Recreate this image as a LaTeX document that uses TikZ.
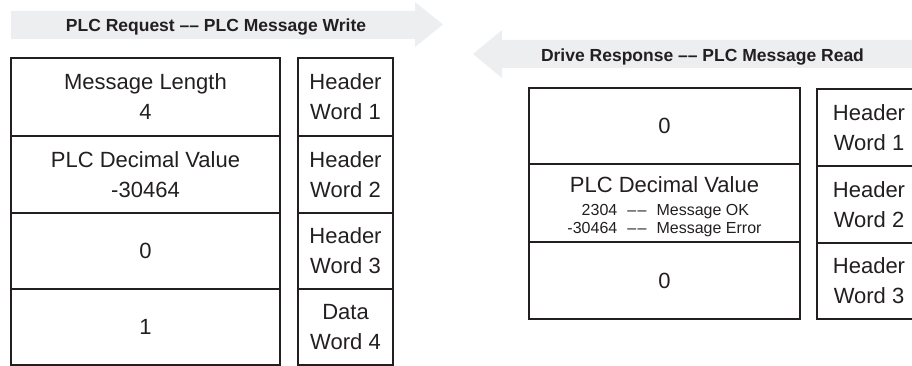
\documentclass[tikz,border=0pt]{standalone}
\usepackage{fontspec}
\setmainfont{Liberation Sans}
\newcommand{\bodyfont}{\fontsize{22}{30}\selectfont}
\newcommand{\headfont}{\fontsize{17.5}{21}\selectfont\bfseries}
\newcommand{\notefont}{\fontsize{16}{18}\selectfont}
\definecolor{inkc}{HTML}{231F20}
\definecolor{bandc}{HTML}{EDEEEF}

\begin{document}
\begin{tikzpicture}[x=1pt, y=-1pt,
  cell/.style={draw=inkc, line width=2.8pt, text=inkc, font=\bodyfont,
    align=center, inner sep=0pt},
  maincol/.style={cell, minimum width=269pt},
  sidecol/.style={cell, minimum width=95pt},
  rmaincol/.style={cell, minimum width=271pt},
  rsidecol/.style={cell, minimum width=104pt},
  heading/.style={text=inkc, font=\headfont, anchor=base, inner sep=0pt}]
  \useasboundingbox (0,0) rectangle (912,366);

  \fill[bandc] (11,11) -- (415,11) -- (415,2) -- (443,24.5) -- (415,47)
    -- (415,39) -- (11,39) -- cycle;
  \fill[bandc] (925,40) -- (502,40) -- (502,30) -- (473,54) -- (502,78)
    -- (502,68) -- (925,68) -- cycle;

  \node[heading] (reqtitle) at (216,32) {PLC Request –– PLC Message Write};
  \node[heading] (resptitle) at (702.5,62) {Drive Response –– PLC Message Read};

  \node[maincol, minimum height=78pt] (reqlen) at (145.5,97) {Message Length\\4};
  \node[maincol, minimum height=77pt] (reqval) at (145.5,174.5) {PLC Decimal Value\\-30464};
  \node[maincol, minimum height=76pt] (reqzero) at (145.5,251) {0};
  \node[maincol, minimum height=76pt] (reqone) at (145.5,327) {1};

  \node[sidecol, minimum height=78pt] (reqw1) at (345.5,97) {Header\\Word 1};
  \node[sidecol, minimum height=77pt] (reqw2) at (345.5,174.5) {Header\\Word 2};
  \node[sidecol, minimum height=76pt] (reqw3) at (345.5,251) {Header\\Word 3};
  \node[sidecol, minimum height=76pt] (reqw4) at (345.5,327) {Data\\Word 4};

  \node[rmaincol, minimum height=76pt] (respzeroa) at (664.5,126) {0};
  \node[rmaincol, minimum height=78pt, text depth=14pt] (respval) at (664.5,203)
    {PLC Decimal Value\\[-7pt]{\notefont\begin{tabular}[t]{@{}r@{\hspace{10pt}–\kern1.5pt–\hspace{10pt}}l@{}}
      2304 & Message OK\\
      -30464 & Message Error
    \end{tabular}}};
  \node[rmaincol, minimum height=77pt] (respzerob) at (664.5,280.5) {0};

  \node[rsidecol, minimum height=77pt] (respw1) at (869,127.5) {Header\\Word 1};
  \node[rsidecol, minimum height=77pt] (respw2) at (869,204.5) {Header\\Word 2};
  \node[rsidecol, minimum height=76pt] (respw3) at (869,281) {Header\\Word 3};
\end{tikzpicture}
\end{document}
